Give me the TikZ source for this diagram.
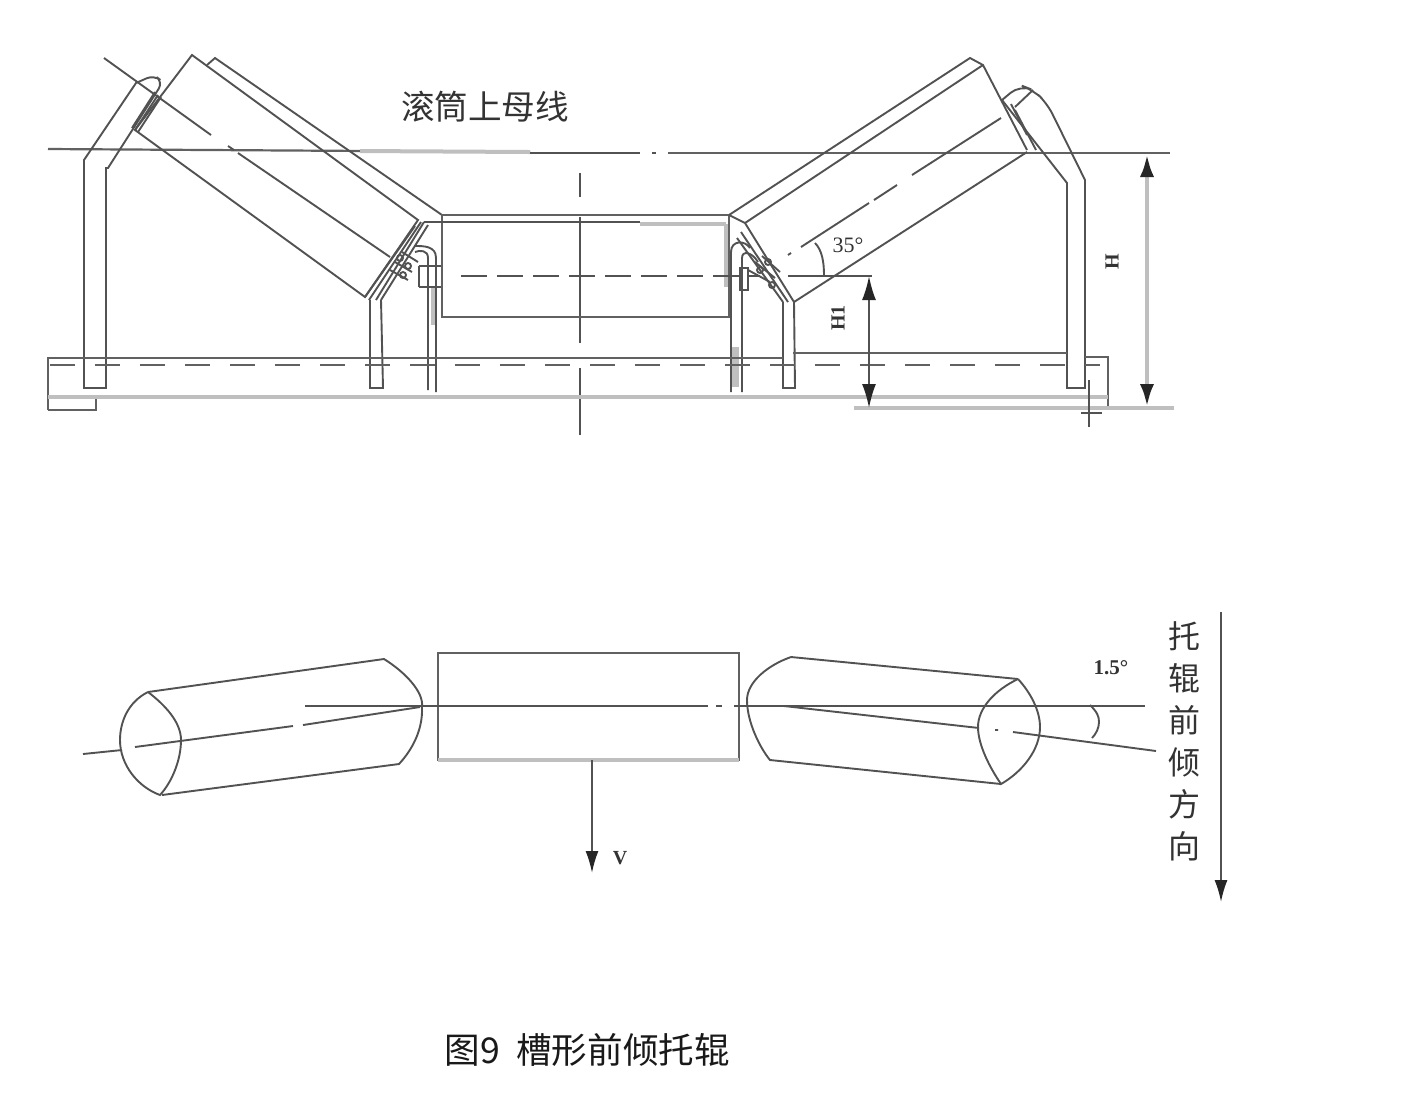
\documentclass[tikz,border=0pt]{standalone}
\usepackage{fontspec}
\setmainfont{Liberation Serif}
\newfontfamily\cjk{Noto Sans CJK SC}
\usetikzlibrary{arrows.meta}

\begin{document}
\begin{tikzpicture}[x=0.5pt,y=-0.5pt,
  every path/.style = {line width=0.95pt, color=black!68},
  heavyline/.style = {line width=2.4pt, color=black!25},
  baseline/.style = {line width=1.1pt, color=black!62},
  centerline/.style = {dash pattern=on 13pt off 5pt},
  dashline/.style = {line width=1.1pt, color=black!62, dash pattern=on 12.5pt off 10pt},
  dimarrow/.style = {{Latex[length=12pt,width=7pt,black!85]}-{Latex[length=12pt,width=7pt,black!85]}},
  downarrow/.style = {-{Latex[length=11pt,width=6.5pt,black!85]}},
  cntext/.style = {text=black!80, inner sep=0pt, font=\cjk},
  latintext/.style = {text=black!80, inner sep=0pt, font=\bfseries\fontsize{10}{10}\selectfont}]
  \useasboundingbox (0,0) rectangle (1402,1100);

  \draw[baseline] (48,149) -- (530,152);
  \draw[heavyline, line width=2pt] (360,151) -- (530,152);
  \draw (530,153) -- (640,153) (652,153) -- (656,153);
  \draw[baseline] (668,153) -- (1170,153);
  \draw (580,173) -- (580,197) (580,217) -- (580,343) (580,368) -- (580,435);

  \draw (192,55) -- (418,220) -- (365,297) -- (135,130) -- cycle;
  \draw (207,65) -- (215,58) -- (442,215);
  \draw (104,58) -- (211,135) (228,146) -- (234,150) (238,153) -- (390,257);
  \draw (84,388) -- (84,160) -- (136,83) [rounded corners=4pt] -- (154,75) -- (163,82) [sharp corners] -- (108,168) -- (106,168) -- (106,388) -- cycle;
  \draw (158,95) -- (135,130) (155,92) -- (132,128) (161,97) -- (138,132);

  \draw (424,222) -- (376,300) (428,225) -- (381,300) (421,222) -- (369,300) (415,226) -- (365,297);
  \draw (370,300) -- (370,388) -- (383,388) -- (381,300);
  \draw (395,262) -- (412,272) (402,252) -- (418,262) (390,270) -- (408,280);
  \draw (400,258) circle (3) (408,266) circle (3) (403,275) circle (3);
  \draw (428,390) -- (428,258) .. controls (428,250) and (420,250) .. (415,252);
  \draw (436,392) -- (436,258) .. controls (436,246) and (424,246) .. (415,246);
  \draw[heavyline] (433,287) -- (433,325);
  \draw (419,266) -- (442,266) (419,287) -- (442,287) (419,266) -- (419,287);

  \draw[baseline] (442,215) rectangle (729,317);
  \draw (424,222) -- (640,222);
  \draw[heavyline] (640,224) -- (726,224) (726,224) -- (726,287);
  \draw[centerline] (461,276) -- (760,276);

  \draw (729,215) -- (970,58) -- (983,65) -- (1027,150) (745,223) -- (983,65);
  \draw (1027,152) -- (794,302) -- (745,223);
  \draw (729,215) -- (745,223);
  \draw (737,238) -- (783,302) (741,232) -- (788,302);
  \draw (1001,118) -- (912,175) (897,185) -- (874,200) (869,203) -- (801,247) (791,253) -- (788,255);
  \draw (1067,388) -- (1067,183) -- (1002,100) [rounded corners=6pt] -- (1020,85) -- (1033,90) -- (1047,103) [sharp corners] -- (1085,180) -- (1085,388) -- cycle;
  \draw (1033,90) -- (1015,107) (1015,110) -- (1036,150) (1011,104) -- (1027,135);

  \draw (783,302) -- (783,388) -- (795,388) -- (794,302);
  \draw (731,392) -- (731,252) .. controls (731,240) and (745,240) .. (750,248) (742,392) -- (742,258) .. controls (742,250) and (752,252) .. (758,262);
  \draw (740,268) rectangle (748,290);
  \draw[heavyline, line width=3.5pt] (735,347) -- (735,387);
  \draw (748,270) -- (770,282) (755,262) -- (775,278) (762,256) -- (780,272);
  \draw (760,270) circle (3) (768,262) circle (3) (772,285) circle (3);

  \draw (788,276) -- (825,276) (825,276) -- (872,276);
  \draw (815,243) .. controls (822,250) and (824,262) .. (824,275);

  \draw[baseline] (48,410) -- (48,358) -- (783,358);
  \draw[baseline] (793,353) -- (1067,353) (1085,357) -- (1108,357) -- (1108,408);
  \draw[baseline] (48,410) -- (96,410) -- (96,397);
  \draw[dashline] (50,365) -- (1100,365);
  \draw[heavyline] (48,397) -- (1108,397);
  \draw[heavyline] (854,408) -- (1174,408);
  \draw (1089,380) -- (1089,427) (1081,413) -- (1102,413);

  \coordinate (hOneTop) at (869,276);
  \coordinate (hOneBot) at (869,408);
  \coordinate (hTop) at (1147,153);
  \coordinate (hBot) at (1147,408);
  \draw[dimarrow, line width=1pt] (hOneTop) -- (hOneBot);
  \draw[heavyline, dimarrow] (hTop) -- (hBot);

  \node[cntext, font=\cjk\fontsize{16.8}{16.8}\selectfont] (busLabel) at (485,107) {滚筒上母线};
  \node[latintext, rotate=90] (hOneLabel) at (838,318) {H1};
  \node[latintext, rotate=90] (hLabel) at (1112,262) {H};
  \node[latintext, font=\fontsize{11}{11}\selectfont] (angleLabel) at (848,245) {35°};

  \draw (148,692) -- (384,659) .. controls (405,672) and (424,692) .. (422,707) .. controls (423,730) and (412,750) .. (399,764) -- (162,795);
  \draw (148,692) .. controls (128,702) and (120,722) .. (120,740) .. controls (120,765) and (138,787) .. (160,795) .. controls (172,782) and (181,760) .. (181,740) .. controls (181,722) and (165,705) .. (148,692);
  \draw (83,754) -- (122,750) (135,747) -- (293,726) (303,725) -- (420,707);

  \draw[baseline] (438,653) rectangle (739,760);
  \draw[heavyline] (438,760) -- (739,760);
  \draw (305,706) -- (708,706) (716,706) -- (722,706) (734,706) -- (1145,706);
  \coordinate (speedTop) at (592,760);
  \coordinate (speedBot) at (592,873);
  \draw[downarrow] (speedTop) -- (speedBot);
  \node[latintext] (speedLabel) at (620,858) {V};

  \draw (791,657) .. controls (768,665) and (747,682) .. (747,700) .. controls (747,722) and (760,748) .. (770,760) -- (1001,784);
  \draw (791,657) -- (1018,679);
  \draw (1018,679) .. controls (1030,692) and (1040,710) .. (1040,727) .. controls (1040,750) and (1022,772) .. (1001,784) .. controls (990,768) and (978,745) .. (978,727) .. controls (978,708) and (995,690) .. (1018,679);
  \draw (784,706) -- (979,728) (995,730) -- (998,730) (1013,732) -- (1156,751);
  \draw (1090,705) .. controls (1097,712) and (1099,716) .. (1099,722) .. controls (1099,728) and (1096,734) .. (1092,738);
  \node[latintext, font=\bfseries\fontsize{10.5}{10.5}\selectfont] (tiltLabel) at (1111,668) {1.5°};

  \coordinate (feedTop) at (1221,612);
  \coordinate (feedBot) at (1221,902);
  \draw[downarrow] (feedTop) -- (feedBot);
  \node[cntext, font=\cjk\fontsize{16}{16}\selectfont, align=center] (feedLabel) at (1184,741) {托\\[5pt]辊\\[5pt]前\\[5pt]倾\\[5pt]方\\[5pt]向};

  \node[cntext, font=\cjk\fontsize{17.8}{17.8}\selectfont, text=black!90, anchor=west] (figCaption) at (444,1050) {图9\hspace{8pt}槽形前倾托辊};
\end{tikzpicture}
\end{document}
